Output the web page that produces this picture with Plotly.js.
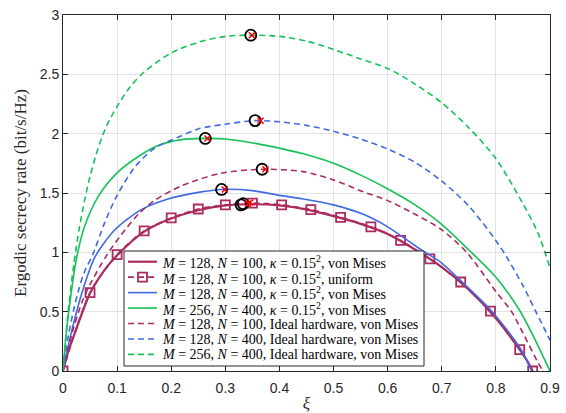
<!DOCTYPE html>
<html>
<head>
<meta charset="utf-8">
<script src="https://cdn.plot.ly/plotly-3.0.1.min.js"></script>
<style>html,body{margin:0;padding:0;background:#fff;}#chart{width:566px;height:413px;}</style>
</head>
<body>
<div id="chart"></div>
<script>
// ---- data ----
// M=128, N=100, kappa=0.15^2, von Mises (solid)
const rsX = [0, 0.005, 0.01, 0.025, 0.05, 0.075, 0.1, 0.15, 0.2, 0.25, 0.3, 0.35, 0.4, 0.45, 0.5, 0.55, 0.6, 0.65, 0.7, 0.75, 0.8, 0.84, 0.86, 0.868];
const rsY = [0, 0.09, 0.17, 0.36, 0.655, 0.84, 0.975, 1.175, 1.285, 1.355, 1.395, 1.405, 1.395, 1.36, 1.305, 1.24, 1.155, 1.025, 0.875, 0.685, 0.445, 0.205, 0.07, 0];
// M=128, N=100, kappa=0.15^2, uniform (dashed with squares)
const ruX = [0, 0.05, 0.1, 0.15, 0.2, 0.25, 0.3, 0.35, 0.404, 0.458, 0.513, 0.569, 0.624, 0.678, 0.735, 0.79, 0.844, 0.868];
const ruY = [0, 0.66, 0.98, 1.18, 1.29, 1.365, 1.40, 1.415, 1.40, 1.36, 1.295, 1.215, 1.10, 0.945, 0.75, 0.505, 0.18, 0];
// M=128, N=400, kappa=0.15^2, von Mises (solid)
const bsX = [0, 0.005, 0.01, 0.02, 0.035, 0.059, 0.096, 0.145, 0.194, 0.25, 0.293, 0.35, 0.4, 0.444, 0.5, 0.555, 0.6, 0.659, 0.7, 0.733, 0.789, 0.844, 0.866];
const bsY = [0, 0.12, 0.22, 0.41, 0.66, 0.96, 1.19, 1.36, 1.45, 1.505, 1.53, 1.52, 1.48, 1.45, 1.40, 1.32, 1.215, 1.03, 0.91, 0.77, 0.52, 0.2, 0];
// M=256, N=400, kappa=0.15^2, von Mises (solid)
const gsX = [0, 0.005, 0.01, 0.025, 0.04, 0.065, 0.1, 0.14, 0.176, 0.219, 0.263, 0.3, 0.34, 0.382, 0.444, 0.5, 0.555, 0.598, 0.647, 0.696, 0.75, 0.8, 0.844, 0.875, 0.9];
const gsY = [0, 0.27, 0.48, 0.95, 1.22, 1.47, 1.67, 1.81, 1.90, 1.95, 1.96, 1.955, 1.93, 1.895, 1.83, 1.75, 1.64, 1.54, 1.41, 1.25, 1.02, 0.79, 0.51, 0.24, 0];
// M=128, N=100, Ideal hardware, von Mises (dashed)
const rdX = [0, 0.005, 0.01, 0.02, 0.035, 0.05, 0.08, 0.108, 0.139, 0.17, 0.219, 0.29, 0.368, 0.444, 0.5, 0.555, 0.598, 0.647, 0.7, 0.746, 0.8, 0.829, 0.85, 0.878, 0.887];
const rdY = [0, 0.11, 0.2, 0.37, 0.58, 0.73, 0.97, 1.15, 1.32, 1.44, 1.56, 1.665, 1.70, 1.68, 1.61, 1.51, 1.44, 1.33, 1.19, 1.0, 0.67, 0.5, 0.32, 0.07, 0];
// M=128, N=400, Ideal hardware, von Mises (dashed)
const bdX = [0, 0.005, 0.01, 0.02, 0.03, 0.04, 0.055, 0.077, 0.1, 0.133, 0.17, 0.213, 0.25, 0.3, 0.355, 0.4, 0.45, 0.5, 0.55, 0.6, 0.65, 0.7, 0.75, 0.8, 0.82, 0.85, 0.875, 0.9];
const bdY = [0, 0.16, 0.3, 0.52, 0.7, 0.84, 0.98, 1.25, 1.48, 1.72, 1.88, 1.97, 2.04, 2.08, 2.11, 2.10, 2.07, 2.02, 1.955, 1.87, 1.76, 1.60, 1.39, 1.10, 0.96, 0.72, 0.49, 0.26];
// M=256, N=400, Ideal hardware, von Mises (dashed)
const gdX = [0, 0.005, 0.01, 0.02, 0.03, 0.04, 0.05, 0.065, 0.08, 0.1, 0.125, 0.15, 0.2, 0.25, 0.3, 0.35, 0.4, 0.45, 0.5, 0.55, 0.6, 0.65, 0.7, 0.75, 0.8, 0.85, 0.878, 0.9];
const gdY = [0, 0.28, 0.52, 0.9, 1.2, 1.44, 1.64, 1.88, 2.06, 2.23, 2.40, 2.52, 2.68, 2.77, 2.82, 2.83, 2.82, 2.78, 2.71, 2.63, 2.55, 2.42, 2.26, 2.05, 1.79, 1.41, 1.16, 0.87];
// peak markers (black circles and red crosses)
const circX = [0.347, 0.355, 0.263, 0.368, 0.293, 0.329, 0.333];
const circY = [2.83, 2.11, 1.96, 1.70, 1.53, 1.40, 1.41];
const crossX = [0.349, 0.365, 0.267, 0.374, 0.299, 0.342, 0.346];
const crossY = [2.83, 2.11, 1.96, 1.70, 1.53, 1.41, 1.42];

const legendLabels = [
  '<i>M</i> = 128, <i>N</i> = 100, <i>κ</i> = 0.15<sup>2</sup>, von Mises',
  '<i>M</i> = 128, <i>N</i> = 100, <i>κ</i> = 0.15<sup>2</sup>, uniform',
  '<i>M</i> = 128, <i>N</i> = 400, <i>κ</i> = 0.15<sup>2</sup>, von Mises',
  '<i>M</i> = 256, <i>N</i> = 400, <i>κ</i> = 0.15<sup>2</sup>, von Mises',
  '<i>M</i> = 128, <i>N</i> = 100, Ideal hardware, von Mises',
  '<i>M</i> = 128, <i>N</i> = 400, Ideal hardware, von Mises',
  '<i>M</i> = 256, <i>N</i> = 400, Ideal hardware, von Mises'
];
const xTicks = [0, 0.1, 0.2, 0.3, 0.4, 0.5, 0.6, 0.7, 0.8, 0.9];
const xTickText = ['0', '0.1', '0.2', '0.3', '0.4', '0.5', '0.6', '0.7', '0.8', '0.9'];
const yTicks = [0, 0.5, 1, 1.5, 2, 2.5, 3];
const yTickText = ['0', '0.5', '1', '1.5', '2', '2.5', '3'];

// ---- styles ----
const RED = '#AB2A5F', BLUE = '#4169E1', GREEN = '#14C257';
const DASH = '6px,4px';
const SERIF = 'Liberation Serif, Times New Roman, serif';
const SANS = 'Liberation Sans, Arial, sans-serif';
const styles = [
  {color: RED, dash: 'solid', width: 2.2},
  {color: RED, dash: DASH, width: 1.6, marker: true},
  {color: BLUE, dash: 'solid', width: 1.6},
  {color: GREEN, dash: 'solid', width: 1.6},
  {color: RED, dash: DASH, width: 1.6},
  {color: BLUE, dash: DASH, width: 1.6},
  {color: GREEN, dash: DASH, width: 1.6}
];
const seriesX = [rsX, ruX, bsX, gsX, rdX, bdX, gdX];
const seriesY = [rsY, ruY, bsY, gsY, rdY, bdY, gdY];

const traces = seriesX.map((xs, i) => {
  const s = styles[i];
  const t = {
    x: xs, y: seriesY[i], type: 'scatter', name: legendLabels[i], showlegend: false,
    mode: s.marker ? 'lines+markers' : 'lines',
    line: {color: s.color, width: s.width, dash: s.dash, shape: 'spline', smoothing: 0.8},
    hoverinfo: 'skip'
  };
  if (s.marker) t.marker = {symbol: 'square-open', size: 9, color: s.color, line: {width: 1.8, color: s.color}};
  return t;
});
traces.push({x: circX, y: circY, type: 'scatter', mode: 'markers', showlegend: false, hoverinfo: 'skip',
  marker: {symbol: 'circle-open', size: 11, color: '#000', line: {width: 1.8, color: '#000'}}});
traces.push({x: crossX, y: crossY, type: 'scatter', mode: 'markers', showlegend: false, hoverinfo: 'skip',
  marker: {symbol: 'x-thin-open', size: 6, color: '#FF0000', line: {width: 1.5, color: '#FF0000'}}});

// ---- legend box drawn in paper coordinates ----
const L = 63, R = 550, T = 15, B = 371, W = R - L, H = B - T;
const px = v => (v - L) / W, py = v => (B - v) / H;
const shapes = [{type: 'rect', xref: 'paper', yref: 'paper', x0: px(124), x1: px(424), y0: py(366), y1: py(251),
  line: {color: '#262626', width: 1}, fillcolor: '#fff', layer: 'above'}];
const annotations = [];
legendLabels.forEach((lab, i) => {
  const yy = 261.7 + i * 15.45;
  const s = styles[i];
  shapes.push({type: 'line', xref: 'paper', yref: 'paper', x0: px(128), x1: px(157), y0: py(yy), y1: py(yy),
    line: {color: s.color, width: s.width, dash: s.dash}, layer: 'above'});
  if (s.marker) {
    shapes.push({type: 'rect', xref: 'paper', yref: 'paper', x0: px(138), x1: px(147), y0: py(yy + 4.5), y1: py(yy - 4.5),
      line: {color: s.color, width: 1.8}, fillcolor: 'rgba(0,0,0,0)', layer: 'above'});
  }
  annotations.push({xref: 'paper', yref: 'paper', x: px(160), y: py(yy + 0.5), xanchor: 'left', yanchor: 'middle',
    text: lab, showarrow: false, font: {family: SERIF, size: 14, color: '#000'}});
});

const layout = {
  width: 566, height: 413,
  margin: {l: L, r: 566 - R, t: T, b: 413 - B, pad: 0},
  paper_bgcolor: '#fff', plot_bgcolor: '#fff',
  showlegend: false,
  xaxis: {
    range: [0, 0.9], tickvals: xTicks, ticktext: xTickText, ticks: 'inside', ticklen: 5, tickcolor: '#262626',
    showline: true, linecolor: '#262626', linewidth: 1, mirror: 'ticks',
    showgrid: true, gridcolor: '#e3e3e3', gridwidth: 1, zeroline: false, ticklabelstandoff: 4,
    tickfont: {family: SANS, size: 14, color: '#262626'},
    title: {text: '<i>ξ</i>', font: {family: SERIF, size: 17, color: '#262626'}, standoff: 8}
  },
  yaxis: {
    range: [0, 3], tickvals: yTicks, ticktext: yTickText, ticks: 'inside', ticklen: 5, tickcolor: '#262626',
    showline: true, linecolor: '#262626', linewidth: 1, mirror: 'ticks',
    showgrid: true, gridcolor: '#e3e3e3', gridwidth: 1, zeroline: false,
    tickfont: {family: SANS, size: 14, color: '#262626'},
    title: {text: 'Ergodic secrecy rate (bit/s/Hz)', font: {family: SERIF, size: 17, color: '#262626'}, standoff: 8}
  },
  shapes: shapes,
  annotations: annotations
};

Plotly.newPlot('chart', traces, layout, {staticPlot: true, displayModeBar: false});
</script>
</body>
</html>
